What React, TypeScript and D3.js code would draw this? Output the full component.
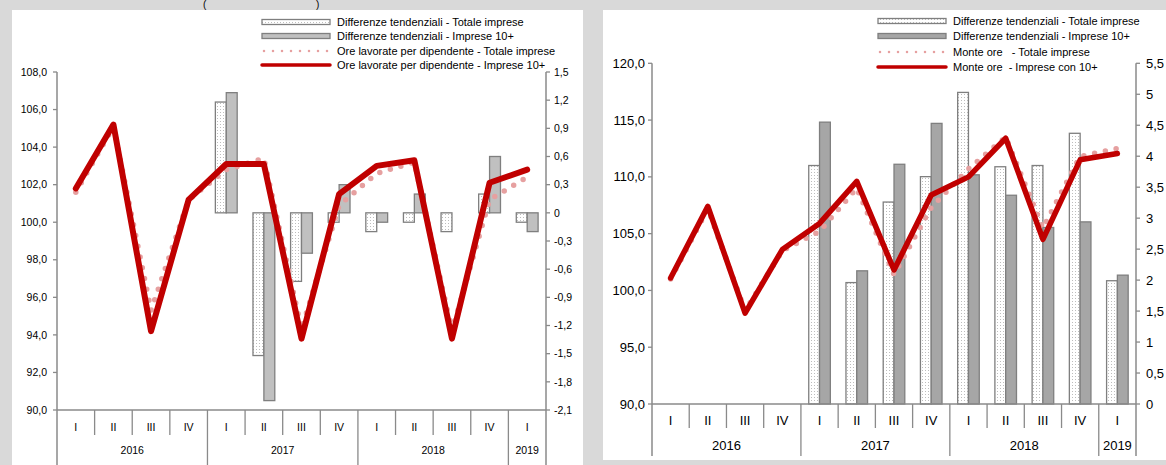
import React from 'react';
import * as d3 from 'd3';

// asse delle categorie
const quarters = ['I', 'II', 'III', 'IV', 'I', 'II', 'III', 'IV', 'I', 'II', 'III', 'IV', 'I'];
const yearLabels = ['2016', '2017', '2018', '2019'];
const yearSpans = [4, 4, 4, 1];

// grafico sinistro: ore lavorate per dipendente
const oreTotale = [101.6, 105.1, 95.3, 101.2, 102.8, 103.4, 94.3, 100.9, 102.6, 103.2, 94.2, 101.2, 102.4];
const oreImprese10 = [101.8, 105.2, 94.2, 101.2, 103.1, 103.1, 93.8, 101.5, 103.0, 103.3, 93.8, 102.1, 102.8];
const oreDiffTotale = [null, null, null, null, 1.18, -1.52, -0.73, -0.1, -0.2, -0.1, -0.2, 0.2, -0.1];
const oreDiff10 = [null, null, null, null, 1.28, -2.0, -0.43, 0.3, -0.1, 0.2, 0, 0.6, -0.2];
const oreTicksLeft = [90, 92, 94, 96, 98, 100, 102, 104, 106, 108];
const oreTicksRight = [-2.1, -1.8, -1.5, -1.2, -0.9, -0.6, -0.3, 0, 0.3, 0.6, 0.9, 1.2, 1.5];
const oreLegend = [
  'Differenze tendenziali - Totale imprese',
  'Differenze tendenziali - Imprese 10+',
  'Ore lavorate per dipendente - Totale imprese',
  'Ore lavorate per dipendente - Imprese 10+',
];

// grafico destro: monte ore
const monteTotale = [101.0, 107.2, 98.2, 103.5, 105.2, 109.0, 101.4, 107.3, 110.7, 113.5, 105.5, 111.8, 112.5];
const monteImprese10 = [101.1, 107.4, 98.0, 103.6, 105.9, 109.6, 101.8, 108.4, 110.0, 113.4, 104.5, 111.5, 112.05];
const monteDiffTotale = [null, null, null, null, 3.85, 1.96, 3.26, 3.67, 5.03, 3.83, 3.85, 4.37, 1.99];
const monteDiff10 = [null, null, null, null, 4.55, 2.15, 3.87, 4.53, 3.7, 3.37, 2.85, 2.94, 2.08];
const monteTicksLeft = [90, 95, 100, 105, 110, 115, 120];
const monteTicksRight = [0, 0.5, 1, 1.5, 2, 2.5, 3, 3.5, 4, 4.5, 5, 5.5];
const monteLegend = [
  'Differenze tendenziali - Totale imprese',
  'Differenze tendenziali - Imprese 10+',
  'Monte ore   - Totale imprese',
  'Monte ore  - Imprese con 10+',
];

const RED = '#c00000';
const PINK = '#e6a0a0';
const AXIS = '#8a8a8a';
const BORDER = '#7f7f7f';
const FONT = '"Liberation Sans", Arial, sans-serif';

const fmt = (v: number) => {
  const s = v.toFixed(1).replace('.', ',');
  return s.endsWith(',0') && Math.abs(v) < 10 ? s.slice(0, -2) : s;
};

interface PanelProps {
  id: string;
  left: number;
  right: number;
  top: number;
  bottom: number;
  leftDomain: [number, number];
  rightDomain: [number, number];
  ticksLeft: number[];
  ticksRight: number[];
  fmtLeft: (v: number) => string;
  lineTotale: number[];
  line10: number[];
  diffTotale: (number | null)[];
  diff10: (number | null)[];
  legend: string[];
  legendX: number;
  legendRows: number[];
  fontSize: number;
  bar10Fill: string;
  lineWidth: number;
  qLabelY: number;
  yLabelY: number;
  qSepEnd: number;
  ySepEnd: number;
  leftLabelGap: number;
  rightLabelGap: number;
}

const Panel: React.FC<PanelProps> = (p) => {
  const idx = d3.range(quarters.length);
  const x = d3.scaleBand<number>().domain(idx).range([p.left, p.right]).padding(0);
  const bw = x.bandwidth();
  const cx = (i: number) => (x(i) as number) + bw / 2;
  const yL = d3.scaleLinear().domain(p.leftDomain).range([p.bottom, p.top]);
  const yR = d3.scaleLinear().domain(p.rightDomain).range([p.bottom, p.top]);
  const barW = bw * 0.29;

  const line = d3.line<number>()
    .x((_, i) => cx(i))
    .y((d) => yL(d));

  // confini degli anni
  const yearBounds: number[] = [0];
  yearSpans.forEach((n, i) => yearBounds.push(yearBounds[i] + n));

  const bar = (v: number | null, i: number, offset: number, fill: string, key: string) => {
    if (v === null || v === 0) return null;
    const y0 = yR(0);
    const y1 = yR(v);
    return (
      <rect
        key={key}
        x={cx(i) + offset}
        y={Math.min(y0, y1)}
        width={barW}
        height={Math.abs(y1 - y0)}
        fill={fill}
        stroke={BORDER}
        strokeWidth={1.3}
      />
    );
  };

  const fs = p.fontSize;

  return (
    <g fontFamily={FONT}>
      {/* barre */}
      {p.diffTotale.map((v, i) => bar(v, i, -barW, `url(#dots-${p.id})`, `t${i}`))}
      {p.diff10.map((v, i) => bar(v, i, 0, p.bar10Fill, `d${i}`))}

      {/* linee */}
      <path d={line(p.lineTotale) || ''} fill="none" stroke={PINK} strokeWidth={5.5}
        strokeDasharray="0 11" strokeLinecap="round" />
      <path d={line(p.line10) || ''} fill="none" stroke={RED} strokeWidth={p.lineWidth}
        strokeLinejoin="round" strokeLinecap="round" />

      {/* asse sinistro */}
      <line x1={p.left} x2={p.left} y1={p.top} y2={p.ySepEnd} stroke={AXIS} strokeWidth={1.5} />
      {p.ticksLeft.map((t) => (
        <g key={`l${t}`}>
          <line x1={p.left - 4} x2={p.left} y1={yL(t)} y2={yL(t)} stroke={AXIS} strokeWidth={1.3} />
          <text x={p.left - p.leftLabelGap} y={yL(t)} dy="0.35em" textAnchor="end" fontSize={fs}>
            {p.fmtLeft(t)}
          </text>
        </g>
      ))}

      {/* asse destro */}
      <line x1={p.right} x2={p.right} y1={p.top} y2={p.ySepEnd} stroke={AXIS} strokeWidth={1.5} />
      {p.ticksRight.map((t) => (
        <g key={`r${t}`}>
          <line x1={p.right} x2={p.right + 4} y1={yR(t)} y2={yR(t)} stroke={AXIS} strokeWidth={1.3} />
          <text x={p.right + p.rightLabelGap} y={yR(t)} dy="0.35em" fontSize={fs}>
            {fmt(t)}
          </text>
        </g>
      ))}

      {/* asse delle categorie */}
      <line x1={p.left} x2={p.right} y1={p.bottom} y2={p.bottom} stroke={AXIS} strokeWidth={1.5} />
      {idx.slice(1).map((i) => (
        <line key={`q${i}`} x1={x(i)} x2={x(i)} y1={p.bottom} y2={yearBounds.includes(i) ? p.ySepEnd : p.qSepEnd}
          stroke={AXIS} strokeWidth={1.3} />
      ))}
      {quarters.map((q, i) => (
        <text key={`ql${i}`} x={cx(i)} y={p.qLabelY} dy="0.35em" textAnchor="middle" fontSize={fs}>{q}</text>
      ))}
      {yearLabels.map((yl, k) => {
        const a = x(yearBounds[k]) as number;
        const b = yearBounds[k + 1] >= quarters.length ? p.right : (x(yearBounds[k + 1]) as number);
        return (
          <text key={yl} x={(a + b) / 2} y={p.yLabelY} dy="0.35em" textAnchor="middle" fontSize={fs}>{yl}</text>
        );
      })}

      {/* legenda */}
      <g>
        <rect x={p.legendX} y={p.legendRows[0] - 2.5} width={68} height={5} fill={`url(#dots-${p.id})`}
          stroke={BORDER} strokeWidth={1.3} />
        <rect x={p.legendX} y={p.legendRows[1] - 2.5} width={68} height={5} fill={p.bar10Fill}
          stroke={BORDER} strokeWidth={1.3} />
        <line x1={p.legendX + 2} x2={p.legendX + 68} y1={p.legendRows[2]} y2={p.legendRows[2]} stroke={PINK}
          strokeWidth={2.5} strokeDasharray="0 9" strokeLinecap="round" />
        <line x1={p.legendX} x2={p.legendX + 68} y1={p.legendRows[3]} y2={p.legendRows[3]} stroke={RED}
          strokeWidth={3.5} strokeLinecap="round" />
        {p.legend.map((t, i) => (
          <text key={t} x={p.legendX + 75} y={p.legendRows[i]} dy="0.35em" fontSize={11} style={{ whiteSpace: 'pre' }}>
            {t}
          </text>
        ))}
      </g>
    </g>
  );
};

export default function App() {
  return (
    <svg width={1166} height={465} style={{ position: 'absolute', left: 0, top: 0 }}>
      <defs>
        {['a', 'b'].map((id) => (
          <pattern key={id} id={`dots-${id}`} width={3} height={3} patternUnits="userSpaceOnUse">
            <rect width={3} height={3} fill="#ffffff" />
            <rect x={1} y={1} width={1} height={1} fill="#bdbdbd" />
          </pattern>
        ))}
      </defs>
      <rect width={1166} height={465} fill="#d9d9d9" />
      <text x={203} y={8} fontSize={10} fontFamily={FONT}>(</text>
      <text x={316} y={8} fontSize={10} fontFamily={FONT}>)</text>
      <rect x={12} y={10} width={571} height={455} fill="#ffffff" />
      <rect x={603} y={10} width={563} height={450} fill="#ffffff" />

      <Panel
        id="a"
        left={57}
        right={546}
        top={72}
        bottom={410}
        leftDomain={[90, 108]}
        rightDomain={[-2.1, 1.5]}
        ticksLeft={oreTicksLeft}
        ticksRight={oreTicksRight}
        fmtLeft={(v) => v.toFixed(1).replace('.', ',')}
        lineTotale={oreTotale}
        line10={oreImprese10}
        diffTotale={oreDiffTotale}
        diff10={oreDiff10}
        legend={oreLegend}
        legendX={262}
        legendRows={[22, 36, 51, 65]}
        fontSize={10.5}
        bar10Fill="#c0c0c0"
        lineWidth={6}
        qLabelY={427}
        yLabelY={450}
        qSepEnd={435}
        ySepEnd={465}
        leftLabelGap={10}
        rightLabelGap={8}
      />
      <Panel
        id="b"
        left={652}
        right={1136}
        top={63.3}
        bottom={404}
        leftDomain={[90, 120]}
        rightDomain={[0, 5.5]}
        ticksLeft={monteTicksLeft}
        ticksRight={monteTicksRight}
        fmtLeft={(v) => v.toFixed(1).replace('.', ',')}
        lineTotale={monteTotale}
        line10={monteImprese10}
        diffTotale={monteDiffTotale}
        diff10={monteDiff10}
        legend={monteLegend}
        legendX={878}
        legendRows={[21, 36, 52, 67]}
        fontSize={13}
        bar10Fill="#a6a6a6"
        lineWidth={5.5}
        qLabelY={420}
        yLabelY={445}
        qSepEnd={428}
        ySepEnd={456}
        leftLabelGap={7}
        rightLabelGap={10}
      />
    </svg>
  );
}
